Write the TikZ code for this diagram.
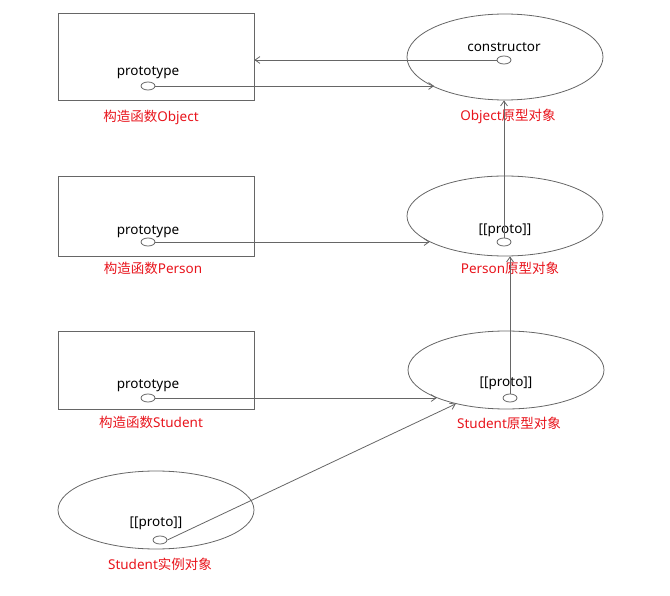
\documentclass[tikz,border=0pt]{standalone}
\usepackage{fontspec}
\setmainfont{Noto Sans}
\newfontfamily\cjk{Noto Sans CJK SC}
\usetikzlibrary{arrows.meta,shapes.geometric}
\definecolor{lineGray}{HTML}{666666}
\definecolor{lblRed}{HTML}{E8141C}

\begin{document}
\begin{tikzpicture}[x=1pt,y=-1pt,font=\fontsize{13.5}{15}\selectfont,line width=0.8pt,
    fnbox/.style={draw=lineGray,minimum width=196pt,minimum height=#1,inner sep=0pt},
    protoell/.style={draw=lineGray,ellipse,minimum width=196pt,minimum height=#1,inner sep=0pt},
    dot/.style={draw=lineGray,ellipse,minimum width=14pt,minimum height=8pt,inner sep=0pt},
    redlbl/.style={text=lblRed,inner sep=0pt},
    arr/.style={draw=lineGray,-{Straight Barb[angle=70:6pt]}}]
    \useasboundingbox (0,0) rectangle (670,596);
    % constructors
    \node[fnbox=87pt] (objFn) at (156,56.5) {};
    \node[fnbox=80pt] (perFn) at (156,216) {};
    \node[fnbox=78pt] (stuFn) at (156,370) {};
    \node at (148,73) {prototype};
    \node at (148,232) {prototype};
    \node at (148,386) {prototype};
    \node[dot] (objFnDot) at (148,86) {};
    \node[dot] (perFnDot) at (148,242) {};
    \node[dot] (stuFnDot) at (148,398) {};
    \node[redlbl] at (151,117) {{\cjk 构造函数}Object};
    \node[redlbl] at (153,268) {{\cjk 构造函数}Person};
    \node[redlbl] at (151,422) {{\cjk 构造函数}Student};
    % prototype objects
    \node[protoell=86pt] (objProto) at (505,57) {};
    \node[protoell=80pt] (perProto) at (505,216) {};
    \node[protoell=78pt] (stuProto) at (506,370) {};
    \node at (504,47) {constructor};
    \node at (505,230) {[[proto]]};
    \node at (506,383) {[[proto]]};
    \node[dot] (objCtor) at (504,60) {};
    \node[dot] (perDot) at (504,242) {};
    \node[dot] (stuDot) at (510,398) {};
    \node[redlbl] at (508,116) {Object{\cjk 原型对象}};
    \node[redlbl] at (510,268) {Person{\cjk 原型对象}};
    \node[redlbl] at (509,423) {Student{\cjk 原型对象}};
    % instance
    \node[protoell=78pt] (inst) at (156,510) {};
    \node at (156,523) {[[proto]]};
    \node[dot] (instDot) at (160,540) {};
    \node[redlbl] at (160,564) {Student{\cjk 实例对象}};
    % links
    \draw[arr] (objCtor.west) -- (objCtor.west -| objFn.east);
    \draw[arr] (objFnDot.east) -- (objFnDot.east -| objProto.203);
    \draw[arr] (perFnDot.east) -- (perFnDot.east -| perProto.199);
    \draw[arr] (stuFnDot.east) -- (stuFnDot.east -| stuProto.202);
    \draw[arr] (instDot.east) -- (stuProto.214);
    \draw[arr] (perDot.north) -- (perDot.north |- objProto.south);
    \draw[arr] (stuDot.north) -- (stuDot.north |- perProto.south);
\end{tikzpicture}
\end{document}
